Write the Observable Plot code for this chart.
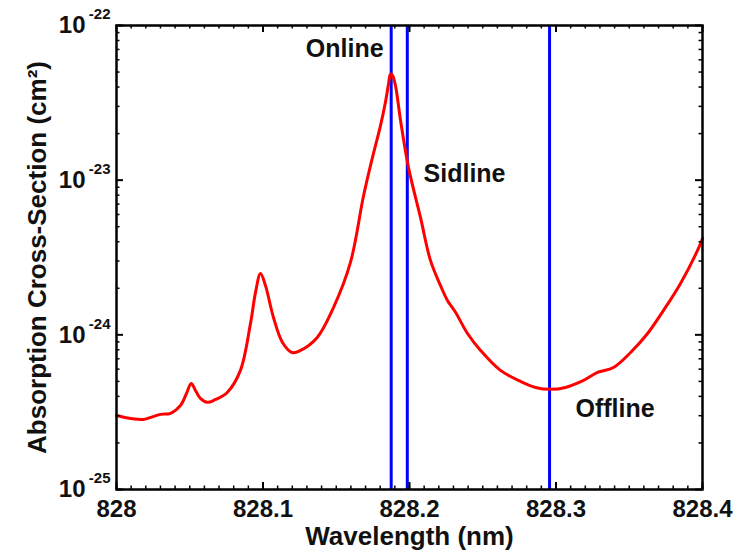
<!DOCTYPE html>
<html>
<head>
<meta charset="utf-8">
<script src="https://cdn.jsdelivr.net/npm/d3@7"></script>
<script src="https://cdn.jsdelivr.net/npm/@observablehq/plot@0.6"></script>
<style>
  html, body { margin: 0; padding: 0; background: #ffffff; }
  #chart { width: 746px; height: 552px; }
</style>
</head>
<body>
<div id="chart"></div>
<script>
// Absorption cross-section spectrum (red curve)
const wavelength = [
  828.0000, 828.0096, 828.0184, 828.0300, 828.0369, 828.0437, 828.0478, 828.0510,
  828.0539, 828.0573, 828.0619, 828.0676, 828.0756, 828.0846, 828.0915, 828.0949,
  828.0983, 828.1017, 828.1072, 828.1133, 828.1199, 828.1256, 828.1370, 828.1481,
  828.1597, 828.1686, 828.1747, 828.1802, 828.1836, 828.1857, 828.1870, 828.1884,
  828.1904, 828.1939, 828.1993, 828.2075, 828.2143, 828.2212, 828.2259, 828.2314,
  828.2396, 828.2485, 828.2621, 828.2758, 828.2860, 828.2962, 828.3065, 828.3188,
  828.3283, 828.3392, 828.3509, 828.3625, 828.3734, 828.3850, 828.3966, 828.4000
];
const crossSection = [
  3.01e-25, 2.88e-25, 2.84e-25, 3.06e-25, 3.11e-25, 3.50e-25, 4.18e-25, 4.85e-25,
  4.37e-25, 3.88e-25, 3.66e-25, 3.82e-25, 4.24e-25, 5.89e-25, 1.19e-24, 1.88e-24,
  2.49e-24, 2.08e-24, 1.29e-24, 8.93e-25, 7.69e-25, 7.93e-25, 9.62e-25, 1.50e-24,
  2.94e-24, 7.90e-24, 1.40e-23, 2.25e-23, 3.20e-23, 4.20e-23, 4.85e-23, 4.75e-23,
  4.09e-23, 2.43e-23, 1.21e-23, 5.74e-24, 3.03e-24, 2.08e-24, 1.67e-24, 1.40e-24,
  1.02e-24, 7.93e-25, 5.89e-25, 5.00e-25, 4.57e-25, 4.44e-25, 4.57e-25, 5.07e-25,
  5.71e-25, 6.15e-25, 7.69e-25, 1.02e-24, 1.44e-24, 2.15e-24, 3.51e-24, 4.20e-24
];

// Laser lines (blue)
const laserWavelengths = [828.1875, 828.1985, 828.2956];

// Annotations
const labelText = ["Online", "Sidline", "Offline"];
const labelWavelength = [828.1823, 828.2096, 828.3133];
const labelCross = [7.0e-23, 1.10e-23, 3.30e-25];
const labelAnchor = ["end", "start", "start"];

// Axes
const xTicks = [828, 828.1, 828.2, 828.3, 828.4];
const xTickLabels = ["828", "828.1", "828.2", "828.3", "828.4"];
const xMinorTicks = d3.range(0, 41).map(i => 828 + i / 100);
const yTicks = [1e-25, 1e-24, 1e-23, 1e-22];
const yExponents = ["-25", "-24", "-23", "-22"];
const yMinorTicks = [-25, -24, -23].flatMap(e => d3.range(2, 10).map(m => m * Math.pow(10, e)));
const xTitle = "Wavelength (nm)";
const yTitle = "Absorption Cross-Section (cm²)";

const spectrum = wavelength.map((w, i) => ({w, s: crossSection[i]}));
const labels = labelText.map((t, i) => ({t, w: labelWavelength[i], s: labelCross[i], a: labelAnchor[i]}));

const xLabelOf = d => xTickLabels[xTicks.findIndex(t => Math.abs(t - d) < 1e-9)];
const yExpOf = d => yExponents[yTicks.findIndex(t => Math.abs(Math.log10(t) - Math.log10(d)) < 1e-6)];

const W = 746, H = 552, ML = 116, MR = 44, MT = 25, MB = 63;
const FW = W - ML - MR, FH = H - MT - MB;

const font = "'Liberation Sans', Arial, Helvetica, sans-serif";
const bold = {fontWeight: "bold", fill: "#111"};

// inward tick marks on all four sides
function ticksX(data, len, sw) {
  return [
    Plot.tickX(data, {x: d => d, stroke: "#000", strokeWidth: sw, insetTop: FH - len}),
    Plot.tickX(data, {x: d => d, stroke: "#000", strokeWidth: sw, insetBottom: FH - len})
  ];
}
function ticksY(data, len, sw) {
  return [
    Plot.tickY(data, {y: d => d, stroke: "#000", strokeWidth: sw, insetRight: FW - len}),
    Plot.tickY(data, {y: d => d, stroke: "#000", strokeWidth: sw, insetLeft: FW - len})
  ];
}

const chart = Plot.plot({
  width: W,
  height: H,
  marginLeft: ML,
  marginRight: MR,
  marginTop: MT,
  marginBottom: MB,
  style: {fontFamily: font, background: "#ffffff", color: "#000"},
  x: {domain: [828, 828.4], axis: null},
  y: {type: "log", domain: [1e-25, 1e-22], axis: null},
  marks: [
    Plot.ruleX(laserWavelengths, {stroke: "#0000ff", strokeWidth: 3}),
    Plot.line(spectrum, {x: "w", y: "s", stroke: "#ff0000", strokeWidth: 3, curve: "catmull-rom"}),
    Plot.text(labels.filter(d => d.a === "end"), {x: "w", y: "s", text: "t", textAnchor: "end", fontSize: 25, ...bold}),
    Plot.text(labels.filter(d => d.a === "start"), {x: "w", y: "s", text: "t", textAnchor: "start", fontSize: 25, ...bold}),
    ...ticksX(xMinorTicks, 3.5, 1.5),
    ...ticksY(yMinorTicks, 3.5, 1.5),
    ...ticksX(xTicks, 7, 2),
    ...ticksY(yTicks, 7, 2),
    // tick labels
    Plot.axisX(xTicks, {anchor: "bottom", tickSize: 0, tickPadding: 10, tickFormat: xLabelOf, fontSize: 24, ...bold, label: null}),
    Plot.axisY(yTicks, {anchor: "left", tickSize: 0, tickPadding: 31, tickFormat: () => "10", fontSize: 24, ...bold, label: null}),
    Plot.axisY(yTicks, {anchor: "left", tickSize: 0, tickPadding: 6, tickFormat: yExpOf, fontSize: 15, dy: -11, ...bold, label: null}),
    // axis titles
    Plot.text([xTitle], {frameAnchor: "bottom", dy: 55, fontSize: 26, ...bold}),
    Plot.text([yTitle], {frameAnchor: "left", textAnchor: "middle", lineAnchor: "middle", dx: -79, rotate: -90, fontSize: 26, ...bold}),
    Plot.frame({stroke: "#000", strokeWidth: 2.5})
  ]
});

document.getElementById("chart").appendChild(chart);
</script>
</body>
</html>
